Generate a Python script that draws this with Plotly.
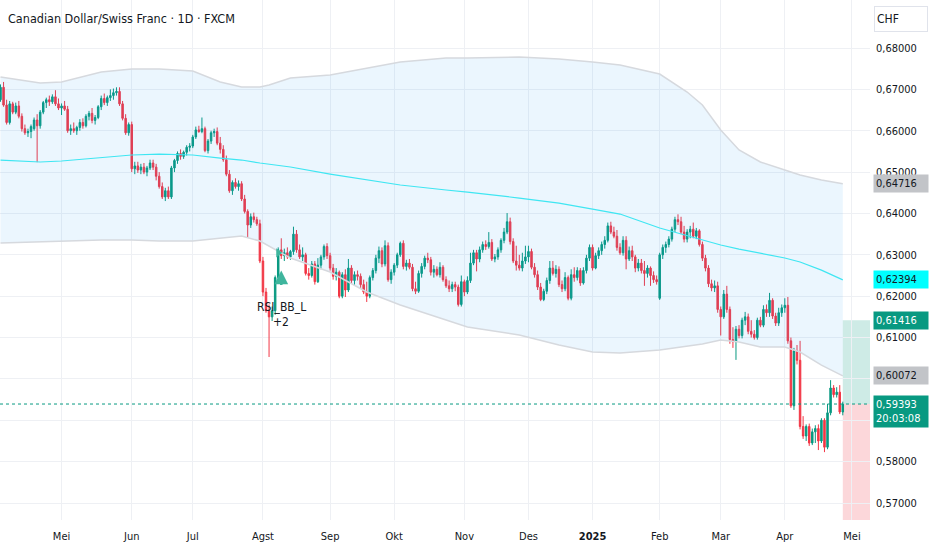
import pandas as pd
import plotly.graph_objects as go

# ---------------- data (prices in pips, /10000) ----------------
open_p = [6675,6705,6662,6620,6665,6645,6660,6635,6605,6595,6598,6605,6626,6612,6645,6668,6675,6670,6682,6665,
          6655,6660,6652,6600,6605,6600,6608,6620,6612,6635,6642,6625,6632,6658,6678,6668,6680,6685,6692,6695,
          6665,6630,6595,6615,6508,6515,6505,6512,6500,6510,6522,6512,6490,6465,6440,6455,6440,6510,6528,6545,
          6538,6548,6560,6563,6585,6602,6598,6605,6552,6575,6595,6598,6570,6555,6530,6495,6455,6475,6465,6472,
          6435,6405,6372,6392,6385,6375,6285,6210,6165,6150,6165,6245,6312,6298,6305,6295,6308,6350,6312,6295,
          6300,6255,6250,6278,6235,6275,6295,6320,6298,6268,6248,6258,6200,6252,6215,6268,6238,6252,6248,6228,
          6210,6200,6245,6262,6292,6310,6278,6322,6240,6258,6275,6300,6328,6272,6280,6270,6218,6212,6255,6272,
          6292,6288,6258,6265,6252,6270,6240,6225,6218,6228,6222,6180,6235,6210,6238,6280,6305,6290,6312,6325,
          6320,6330,6290,6295,6312,6335,6355,6380,6332,6285,6275,6268,6285,6295,6308,6270,6252,6222,6192,6212,
          6238,6268,6255,6265,6228,6218,6245,6195,6252,6245,6262,6232,6262,6292,6318,6268,6298,6310,6325,6335,
          6370,6355,6345,6318,6305,6335,6290,6310,6295,6268,6280,6262,6255,6268,6250,6240,6195,6300,6318,6325,
          6338,6362,6385,6380,6355,6338,6355,6362,6345,6358,6325,6292,6268,6230,6220,6225,6168,6150,6205,6168,
          6095,6090,6120,6105,6142,6150,6115,6108,6100,6142,6130,6168,6160,6190,6152,6135,6160,6172,6178,6092,
          5935,6068,6045,5885,5862,5885,5845,5872,5880,5850,5900,5835,5918,5978,5962,5968,5920]
high_p = [6712,6718,6675,6672,6670,6668,6672,6642,6615,6605,6615,6632,6640,6650,6672,6680,6685,6688,6698,6678,
          6666,6672,6660,6615,6620,6612,6628,6630,6640,6648,6655,6638,6662,6685,6690,6685,6700,6702,6705,6705,
          6672,6640,6620,6622,6525,6525,6520,6522,6515,6530,6530,6520,6500,6475,6462,6465,6515,6532,6550,6555,
          6552,6565,6570,6590,6610,6612,6632,6610,6580,6600,6605,6608,6585,6565,6540,6505,6480,6485,6480,6478,
          6445,6410,6400,6402,6392,6385,6295,6220,6180,6175,6250,6318,6340,6315,6318,6312,6368,6360,6325,6318,
          6305,6268,6285,6285,6292,6300,6325,6328,6305,6278,6268,6262,6258,6265,6290,6275,6260,6262,6255,6240,
          6235,6250,6268,6300,6320,6318,6335,6330,6265,6280,6305,6332,6335,6288,6290,6278,6235,6262,6280,6298,
          6305,6295,6275,6272,6282,6275,6248,6238,6235,6235,6228,6250,6240,6248,6305,6312,6312,6320,6332,6335,
          6355,6338,6302,6318,6340,6365,6401,6390,6340,6322,6300,6305,6322,6322,6315,6280,6262,6232,6218,6245,
          6285,6285,6275,6272,6238,6258,6250,6265,6270,6270,6268,6270,6300,6325,6325,6305,6318,6332,6345,6378,
          6380,6368,6360,6328,6345,6345,6320,6322,6300,6290,6290,6285,6275,6272,6260,6250,6305,6325,6332,6345,
          6368,6392,6398,6392,6370,6362,6370,6378,6365,6362,6332,6300,6275,6240,6238,6235,6175,6215,6225,6175,
          6125,6128,6130,6148,6162,6158,6142,6118,6148,6150,6178,6180,6208,6195,6160,6172,6180,6195,6198,6100,
          6075,6082,6092,5910,5890,5892,5880,5888,5890,5905,5905,5940,5997,5985,5980,5985,5945]
low_p = [6670,6658,6615,6615,6640,6640,6630,6598,6590,6585,6582,6600,6524,6605,6640,6655,6660,6665,6660,6650,
         6638,6648,6595,6590,6595,6590,6600,6605,6608,6625,6618,6615,6628,6650,6662,6660,6672,6675,6685,6660,
         6625,6590,6588,6500,6495,6498,6495,6495,6490,6505,6505,6480,6460,6435,6430,6435,6435,6500,6520,6530,
         6532,6540,6550,6558,6580,6595,6594,6548,6545,6568,6585,6565,6545,6525,6490,6450,6445,6460,6455,6430,
         6400,6341,6365,6378,6370,6280,6200,6160,6053,6140,6155,6240,6290,6285,6290,6288,6300,6305,6290,6285,
         6250,6240,6245,6228,6232,6265,6288,6290,6262,6240,6238,6195,6195,6198,6210,6230,6225,6238,6220,6205,
         6186,6195,6238,6255,6280,6270,6272,6235,6230,6250,6268,6295,6265,6262,6265,6212,6205,6208,6245,6265,
         6280,6250,6245,6248,6245,6235,6220,6210,6210,6212,6175,6175,6200,6205,6232,6275,6260,6282,6305,6312,
         6315,6285,6282,6288,6305,6328,6350,6325,6280,6262,6262,6260,6278,6282,6265,6245,6215,6188,6188,6205,
         6230,6250,6245,6222,6210,6212,6190,6190,6235,6238,6225,6228,6255,6285,6262,6265,6290,6300,6315,6330,
         6350,6340,6310,6300,6298,6265,6285,6285,6258,6260,6255,6225,6245,6225,6232,6228,6191,6290,6305,6318,
         6332,6355,6372,6350,6330,6330,6340,6340,6338,6320,6285,6260,6222,6212,6210,6160,6105,6145,6160,6085,
         6075,6046,6098,6098,6130,6108,6100,6095,6095,6125,6125,6150,6150,6145,6128,6128,6150,6160,6085,5930,
         5925,6035,5878,5855,5850,5838,5840,5845,5828,5845,5823,5830,5912,5955,5955,5915,5912]
close_p = [6705,6662,6620,6665,6645,6660,6635,6605,6595,6598,6610,6626,6612,6645,6668,6675,6670,6682,6665,6655,
           6660,6652,6600,6605,6600,6608,6620,6612,6635,6642,6625,6632,6658,6678,6668,6680,6685,6692,6695,6665,
           6630,6595,6615,6508,6515,6505,6512,6500,6510,6522,6512,6490,6465,6440,6455,6440,6510,6528,6545,6538,
           6548,6560,6563,6585,6602,6598,6605,6552,6575,6595,6598,6570,6555,6530,6495,6455,6475,6465,6472,6435,
           6405,6372,6392,6385,6375,6285,6210,6165,6150,6165,6245,6312,6298,6305,6295,6308,6350,6312,6295,6300,
           6255,6250,6278,6235,6275,6295,6320,6298,6268,6248,6258,6200,6252,6215,6268,6238,6252,6248,6228,6210,
           6200,6245,6262,6292,6310,6278,6322,6240,6258,6275,6300,6328,6272,6280,6270,6218,6212,6255,6272,6292,
           6288,6258,6265,6252,6270,6240,6225,6218,6228,6222,6180,6235,6210,6238,6280,6305,6290,6312,6325,6320,
           6330,6290,6295,6312,6335,6355,6380,6332,6285,6275,6268,6285,6295,6308,6270,6252,6222,6192,6212,6238,
           6268,6255,6265,6228,6218,6245,6195,6252,6245,6262,6232,6262,6292,6318,6268,6298,6310,6325,6335,6370,
           6355,6345,6318,6305,6335,6290,6310,6295,6268,6280,6262,6255,6268,6250,6240,6235,6300,6318,6325,6338,
           6362,6385,6380,6355,6338,6355,6362,6345,6358,6325,6292,6268,6230,6220,6225,6168,6150,6205,6168,6095,
           6090,6120,6105,6142,6150,6115,6108,6100,6142,6130,6168,6160,6190,6152,6135,6160,6172,6178,6092,5935,
           6068,6045,5885,5862,5885,5845,5872,5880,5850,5900,5835,5918,5978,5962,5968,5920,5939]

holidays = ["2024-12-25", "2025-01-01"]

band_dates = ["2024-04-03","2024-04-22","2024-05-01","2024-05-20","2024-06-03","2024-06-14","2024-07-01",
              "2024-07-12","2024-07-23","2024-07-31","2024-08-05","2024-08-14","2024-09-02","2024-09-18",
              "2024-10-03","2024-10-24","2024-11-04","2024-11-27","2024-12-16","2025-01-02","2025-01-15",
              "2025-02-03","2025-02-14","2025-02-21","2025-03-03","2025-03-11","2025-03-20","2025-04-01",
              "2025-04-08","2025-04-17","2025-04-28"]
band_upper = [0.67299,0.67154,0.67178,0.67420,0.67492,0.67492,0.67444,0.67178,0.67057,0.67057,0.67105,0.67275,
              0.67347,0.67516,0.67661,0.67758,0.67758,0.67782,0.67734,0.67661,0.67589,0.67371,0.66936,0.66622,
              0.66017,0.65534,0.65244,0.65050,0.64929,0.64809,0.64716]
band_mid = [0.65292,0.65244,0.65268,0.65340,0.65413,0.65437,0.65413,0.65340,0.65292,0.65220,0.65195,0.65123,
            0.64953,0.64809,0.64688,0.64567,0.64518,0.64373,0.64252,0.64107,0.63986,0.63648,0.63455,0.63358,
            0.63237,0.63140,0.63044,0.62923,0.62826,0.62631,0.62394]
band_lower = [0.63285,0.63309,0.63334,0.63358,0.63358,0.63334,0.63334,0.63406,0.63455,0.63334,0.63213,0.62923,
              0.62584,0.62101,0.61786,0.61424,0.61255,0.61061,0.60819,0.60650,0.60626,0.60698,0.60795,0.60843,
              0.60940,0.60892,0.60771,0.60771,0.60650,0.60335,0.60072]

last_price = 0.59393
take_profit = 0.61416
countdown = "20:03:08"

signal_date = "2024-08-09"
signal_price = 0.6262
flag_date = "2024-08-08"
flag_price = 0.6305
signal_label = "RSI_BB_L"
signal_qty = "+2"

month_ticks = ["2024-05-01","2024-06-03","2024-07-01","2024-08-01","2024-09-02","2024-10-01","2024-11-01",
               "2024-12-02","2025-01-02","2025-02-03","2025-03-03","2025-04-01","2025-05-01"]
month_labels = ["Mei","Jun","Jul","Agst","Sep","Okt","Nov","Des","<b>2025</b>","Feb","Mar","Apr","Mei"]
price_ticks = [0.57,0.58,0.59,0.60,0.61,0.62,0.63,0.64,0.65,0.66,0.67,0.68]
hidden_ticks = [0.59, 0.60]   # covered by the price-line labels

# ---------------- build ----------------
dates = [d for d in pd.bdate_range("2024-04-03", "2025-04-28") if d.strftime("%Y-%m-%d") not in holidays]
assert len(dates) == len(close_p)
O = [v / 10000 for v in open_p]
H = [v / 10000 for v in high_p]
L = [v / 10000 for v in low_p]
C = [v / 10000 for v in close_p]

FONT = "DejaVu Sans Condensed, DejaVu Sans, sans-serif"
GREEN = "#089981"
RED = "#F23645"
TXT = "#131722"

y_lo, y_hi = 0.56589, 0.69161
x_lo, x_hi = "2024-04-02 20:00", "2025-05-08 22:00"

fig = go.Figure()
fig.add_trace(go.Scatter(x=band_dates, y=band_lower, mode="lines", line=dict(color="#d6d9de", width=1.5),
                         hoverinfo="skip", showlegend=False))
fig.add_trace(go.Scatter(x=band_dates, y=band_upper, mode="lines", line=dict(color="#d6d9de", width=1.5),
                         fill="tonexty", fillcolor="rgba(33,150,243,0.09)", hoverinfo="skip", showlegend=False))
fig.add_trace(go.Scatter(x=band_dates, y=band_mid, mode="lines", line=dict(color="#3fe6f2", width=1.2),
                         hoverinfo="skip", showlegend=False))
fig.add_trace(go.Candlestick(x=dates, open=O, high=H, low=L, close=C,
                             increasing=dict(line=dict(color=GREEN, width=1), fillcolor=GREEN),
                             decreasing=dict(line=dict(color=RED, width=1), fillcolor=RED),
                             whiskerwidth=0, showlegend=False))
fig.add_trace(go.Scatter(x=[flag_date], y=[flag_price], mode="markers",
                         marker=dict(symbol="triangle-right", size=8, color="#3fb59d"), showlegend=False))

shapes = [
    dict(type="rect", xref="x", yref="y", x0=dates[-1], x1=x_hi, y0=last_price, y1=take_profit,
         fillcolor="rgba(8,153,129,0.2)", line=dict(width=0), layer="below"),
    dict(type="rect", xref="x", yref="y", x0=dates[-1], x1=x_hi, y0=y_lo, y1=last_price,
         fillcolor="rgba(242,54,69,0.2)", line=dict(width=0), layer="below"),
    dict(type="line", xref="paper", yref="y", x0=0, x1=1, y0=last_price, y1=last_price,
         line=dict(color=GREEN, width=1, dash="dot")),
]

def fmt(v):
    return f"{v:.5f}".replace(".", ",")

annotations = [
    dict(text="Canadian Dollar/Swiss Franc · 1D · FXCM", xref="paper", yref="paper", x=0, y=1,
         xanchor="left", yanchor="top", xshift=6, yshift=-9, showarrow=False,
         font=dict(family=FONT, size=12.5, color=TXT)),
    dict(text="", xref="x", yref="y", x=signal_date, y=signal_price, ax=0, ay=16,
         showarrow=True, arrowhead=2, arrowsize=1.1, arrowwidth=2.5, arrowcolor="#3fb59d"),
    dict(text=signal_label, xref="x", yref="y", x=signal_date, y=0.61738, showarrow=False,
         font=dict(family=FONT, size=12, color=TXT)),
    dict(text=signal_qty, xref="x", yref="y", x=signal_date, y=0.61375, showarrow=False,
         font=dict(family=FONT, size=12, color=TXT)),
    dict(text="CHF", xref="paper", yref="paper", x=1, y=1, xanchor="left", yanchor="top",
         xshift=4, yshift=-6, showarrow=False, width=48, height=20, align="left",
         bgcolor="white", bordercolor="#e0e3eb", borderwidth=1, borderpad=2,
         font=dict(family=FONT, size=12, color=TXT)),
]

def price_label(v, bg, fg, extra=""):
    return dict(text=fmt(v) + extra, xref="paper", yref="y", x=1, y=v, xanchor="left", yanchor="middle",
                xshift=3, showarrow=False, bgcolor=bg, borderpad=2, width=50, align="left",
                font=dict(family=FONT, size=11, color=fg))

annotations += [
    price_label(band_upper[-1], "#c2c4c8", TXT),
    price_label(band_mid[-1], "#00ffff", TXT),
    price_label(take_profit, GREEN, "white"),
    price_label(band_lower[-1], "#c2c4c8", TXT),
]
a = price_label(last_price, GREEN, "white", "<br>" + countdown)
a["yanchor"] = "top"
a["yshift"] = 9
annotations.append(a)

fig.update_layout(
    width=932, height=550, autosize=False,
    margin=dict(l=0, r=62, t=0, b=30),
    paper_bgcolor="white", plot_bgcolor="white",
    showlegend=False, hovermode=False,
    shapes=shapes, annotations=annotations,
    font=dict(family=FONT, size=11, color=TXT),
)
fig.update_xaxes(
    type="date", range=[x_lo, x_hi], rangeslider_visible=False,
    rangebreaks=[dict(bounds=["sat", "mon"]), dict(values=holidays)],
    tickvals=month_ticks, ticktext=month_labels, tickfont=dict(family=FONT, size=11, color=TXT),
    showgrid=True, gridcolor="#eef0f4", gridwidth=1, zeroline=False, showline=False, ticks="",
    ticklabelstandoff=8,
)
fig.update_yaxes(
    side="right", range=[y_lo, y_hi], tickvals=price_ticks,
    ticktext=["" if v in hidden_ticks else fmt(v) for v in price_ticks],
    tickfont=dict(family=FONT, size=11, color=TXT), showgrid=True, gridcolor="#eef0f4", gridwidth=1,
    zeroline=False, showline=False, ticks="", ticklabelstandoff=5,
)

fig.write_html("out.html", config={"displayModeBar": False},
               post_script="document.body.style.margin='0';")
